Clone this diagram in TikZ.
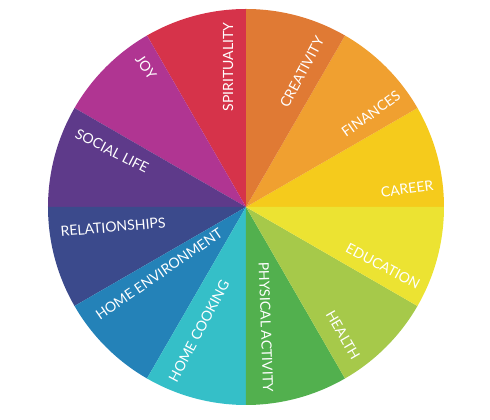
\documentclass[tikz,border=0pt]{standalone}
\usepackage{fontspec}
\newfontfamily\wheelfont{Lato}
\definecolor{cCreativity}{RGB}{224,122,52}
\definecolor{cFinances}{RGB}{240,160,48}
\definecolor{cCareer}{RGB}{245,203,28}
\definecolor{cEducation}{RGB}{236,227,50}
\definecolor{cHealth}{RGB}{166,201,74}
\definecolor{cPhysical}{RGB}{82,176,78}
\definecolor{cCooking}{RGB}{53,191,200}
\definecolor{cEnvironment}{RGB}{36,130,184}
\definecolor{cRelations}{RGB}{59,74,140}
\definecolor{cSocial}{RGB}{94,58,138}
\definecolor{cJoy}{RGB}{176,53,146}
\definecolor{cSpirit}{RGB}{214,51,74}
\begin{document}
\begin{tikzpicture}[
    wheeltext/.style ={text=white, inner sep=0pt, font=\wheelfont\fontsize{8}{9}\selectfont}]
   \useasboundingbox (0,0) rectangle (9.8,8.4);
   \begin{scope}[shift={(4.92,4.26)}]
   \coordinate (C) at (0,0);
   % slices
   \fill[cCareer]      (C) -- (0:3.96)   arc[start angle=0,   end angle=30,  radius=3.96] -- cycle;
   \fill[cFinances]    (C) -- (30:3.96)  arc[start angle=30,  end angle=60,  radius=3.96] -- cycle;
   \fill[cCreativity]  (C) -- (60:3.96)  arc[start angle=60,  end angle=90,  radius=3.96] -- cycle;
   \fill[cSpirit]      (C) -- (90:3.96)  arc[start angle=90,  end angle=120, radius=3.96] -- cycle;
   \fill[cJoy]         (C) -- (120:3.96) arc[start angle=120, end angle=150, radius=3.96] -- cycle;
   \fill[cSocial]      (C) -- (150:3.96) arc[start angle=150, end angle=180, radius=3.96] -- cycle;
   \fill[cRelations]   (C) -- (180:3.96) arc[start angle=180, end angle=210, radius=3.96] -- cycle;
   \fill[cEnvironment] (C) -- (210:3.96) arc[start angle=210, end angle=240, radius=3.96] -- cycle;
   \fill[cCooking]     (C) -- (240:3.96) arc[start angle=240, end angle=270, radius=3.96] -- cycle;
   \fill[cPhysical]    (C) -- (270:3.96) arc[start angle=270, end angle=300, radius=3.96] -- cycle;
   \fill[cHealth]      (C) -- (300:3.96) arc[start angle=300, end angle=330, radius=3.96] -- cycle;
   \fill[cEducation]   (C) -- (330:3.96) arc[start angle=330, end angle=360, radius=3.96] -- cycle;
   % labels
   \node[wheeltext, rotate=62]   (creativity)   at (1.12,2.70)   {CREATIVITY};
   \node[wheeltext, rotate=35.5] (finances)     at (2.50,1.86)   {FINANCES};
   \node[wheeltext, rotate=7.5]  (career)       at (3.22,0.36)   {CAREER};
   \node[wheeltext, rotate=-28]  (education)    at (2.74,-1.18)  {EDUCATION};
   \node[wheeltext, rotate=-60]  (health)       at (1.94,-2.56)  {HEALTH};
   \node[wheeltext, rotate=-88]  (physical)     at (0.40,-2.40)  {PHYSICAL ACTIVITY};
   \node[wheeltext, rotate=62]   (cooking)      at (-0.94,-2.48) {HOME COOKING};
   \node[wheeltext, rotate=34.5] (environment)  at (-1.74,-1.34) {HOME ENVIRONMENT};
   \node[wheeltext, rotate=5]    (relations)    at (-2.66,-0.40) {RELATIONSHIPS};
   \node[wheeltext, rotate=-27]  (social)       at (-2.68,1.12)  {SOCIAL LIFE};
   \node[wheeltext, rotate=-55]  (joy)          at (-2.00,2.80)  {JOY};
   \node[wheeltext, rotate=90]   (spirituality) at (-0.36,2.80)  {SPIRITUALITY};
   \end{scope}
 \end{tikzpicture}
\end{document}
